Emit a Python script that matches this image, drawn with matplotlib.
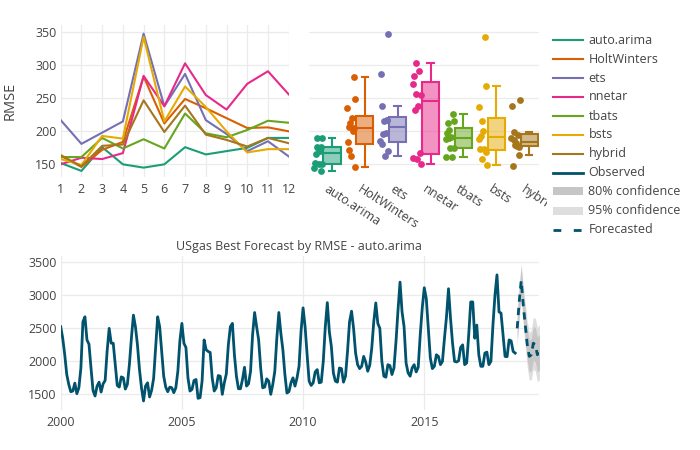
import numpy as np
import matplotlib
matplotlib.use('Agg')
import matplotlib.pyplot as plt
from matplotlib.lines import Line2D
from matplotlib.patches import Rectangle

plt.rcParams['font.family'] = ['Open Sans', 'DejaVu Sans']

# ---------------- data ----------------
horizons = list(range(1, 13))
models = ['auto.arima', 'HoltWinters', 'ets', 'nnetar', 'tbats', 'bsts', 'hybrid']
colors = ['#1b9e77', '#d95f02', '#7570b3', '#e7298a', '#66a61e', '#e6ab02', '#a6761d']

rmse_auto_arima = [152, 140, 176, 150, 145, 150, 176, 165, 170, 175, 190, 190]
rmse_holtwinters = [163, 146, 172, 184, 283, 212, 249, 235, 220, 205, 206, 200]
rmse_ets = [217, 181, 198, 215, 348, 238, 287, 217, 196, 170, 185, 162]
rmse_nnetar = [150, 160, 158, 167, 284, 238, 303, 255, 233, 272, 291, 256]
rmse_tbats = [161, 161, 190, 174, 188, 174, 227, 197, 191, 202, 216, 213]
rmse_bsts = [158, 149, 193, 189, 343, 215, 268, 237, 200, 168, 173, 173]
rmse_hybrid = [164, 147, 178, 180, 247, 199, 239, 195, 187, 177, 190, 182]
rmse = [rmse_auto_arima, rmse_holtwinters, rmse_ets, rmse_nnetar,
        rmse_tbats, rmse_bsts, rmse_hybrid]

# USgas monthly, Jan 2000 - Oct 2018
usgas = [
    2515, 2340, 2090, 1790, 1640, 1530, 1540, 1660, 1500, 1590, 1890, 2590,
    2665, 2315, 2250, 1890, 1550, 1465, 1615, 1675, 1525, 1650, 1700, 2150,
    2490, 2265, 2265, 1940, 1625, 1600, 1755, 1740, 1570, 1640, 1940, 2340,
    2690, 2515, 2240, 1865, 1590, 1390, 1615, 1665, 1450, 1550, 1730, 2190,
    2665, 2515, 2140, 1765, 1600, 1530, 1600, 1590, 1515, 1590, 1840, 2300,
    2565, 2265, 2200, 1740, 1540, 1565, 1700, 1715, 1430, 1440, 1690, 2315,
    2165, 2140, 2125, 1740, 1540, 1590, 1775, 1765, 1490, 1665, 1800, 2240,
    2515, 2565, 2090, 1765, 1575, 1575, 1715, 1900, 1615, 1650, 1840, 2390,
    2730, 2515, 2315, 1890, 1590, 1600, 1725, 1690, 1490, 1640, 1840, 2340,
    2730, 2415, 2165, 1790, 1510, 1530, 1665, 1740, 1615, 1740, 1915, 2450,
    2800, 2515, 2090, 1690, 1625, 1665, 1830, 1865, 1665, 1675, 1990, 2515,
    2880, 2440, 2215, 1815, 1690, 1675, 1890, 1880, 1675, 1765, 2140, 2590,
    2750, 2490, 2115, 1940, 1880, 1915, 2065, 1980, 1840, 1930, 2190, 2590,
    2875, 2565, 2490, 1990, 1765, 1750, 1940, 1925, 1790, 1890, 2290, 2765,
    3190, 2740, 2515, 1965, 1815, 1765, 1890, 1940, 1830, 1900, 2390, 2800,
    3105, 2940, 2490, 2040, 1880, 1915, 2090, 2065, 1940, 1990, 2340, 2665,
    3090, 2640, 2265, 1990, 1980, 2000, 2200, 2240, 1940, 1965, 2390, 2890,
    2890, 2340, 2540, 2090, 1915, 1915, 2115, 2130, 1940, 1990, 2540, 2990,
    3300, 2740, 2720, 2390, 2065, 2060, 2315, 2300, 2140, 2115,
]
start_year = 2000

# auto.arima forecast, Nov 2018 - Oct 2019
forecast = [2490, 2890, 3215, 2840, 2540, 2240, 2065, 2090, 2265, 2240, 2090, 2130]
upper80 = [2660, 3075, 3410, 3045, 2755, 2465, 2300, 2335, 2520, 2500, 2355, 2400]
lower80 = [2320, 2705, 3020, 2635, 2325, 2015, 1830, 1845, 2010, 1980, 1825, 1860]
upper95 = [2750, 3175, 3470, 3150, 2870, 2585, 2425, 2465, 2655, 2640, 2500, 2550]
lower95 = [2230, 2605, 2960, 2530, 2210, 1895, 1705, 1715, 1875, 1840, 1680, 1710]

title = 'USgas Best Forecast by RMSE - auto.arima'

# ---------------- style ----------------
W, H = 700, 450
TXT = '#444444'
GRID = '#ebebeb'
OBS = '#00526d'
C80 = '#c6c6c6'
C95 = '#dedede'

fig = plt.figure(figsize=(7, 4.5), dpi=100)

def fx(px):
    return px / W

def fy(py):
    return 1 - py / H

ax1 = fig.add_axes([fx(60.7), fy(177), fx(288.7 - 60.7), (177 - 25) / H])
ax2 = fig.add_axes([fx(309), fy(177), fx(539 - 309), (177 - 25) / H], sharey=ax1)
ax3 = fig.add_axes([fx(60.7), fy(410), fx(539.4 - 60.7), (410 - 256) / H])

for ax in (ax1, ax2, ax3):
    for s in ax.spines.values():
        s.set_visible(False)
    ax.tick_params(length=0, labelsize=9, labelcolor=TXT)
    ax.grid(True, color=GRID, lw=0.9)
    ax.set_axisbelow(True)

# --- top-left: RMSE by horizon
for vals, c in zip(rmse, colors):
    ax1.plot(horizons, vals, color=c, lw=1.5, solid_joinstyle='round')
ax1.set_xlim(1, 12)
ax1.set_xticks(horizons)
ax1.set_ylim(130.8, 361.1)
ax1.set_yticks([150, 200, 250, 300, 350])
ax1.tick_params(axis='x', pad=4)
ax1.tick_params(axis='y', pad=3)
ax1.set_ylabel('RMSE', fontsize=10.5, color=TXT)
ax1.yaxis.set_label_coords(-0.19, 0.5)

# --- top-right: box plots with points
pos = np.arange(len(models))
jit = [-0.10, 0.08, -0.03, 0.12, -0.12, 0.02, 0.10, -0.07, 0.05, -0.01, 0.13, -0.05]
for i, (vals, c) in enumerate(zip(rmse, colors)):
    bp = ax2.boxplot([vals], positions=[pos[i] + 0.2], widths=0.52, patch_artist=True,
                     showfliers=False, whis=1.5, capwidths=0.2, manage_ticks=False)
    for b in bp['boxes']:
        b.set_facecolor(matplotlib.colors.to_rgba(c, 0.5))
        b.set_edgecolor(c)
        b.set_linewidth(1.5)
    for k in ('whiskers', 'caps', 'medians'):
        for ln in bp[k]:
            ln.set_color(c)
            ln.set_linewidth(1.5)
    offs = np.roll(jit, i * 3)
    ax2.scatter(pos[i] - 0.22 + offs, vals, s=24, color=c, zorder=3, linewidths=0)
ax2.set_xlim(-0.5, 6.5)
ax2.set_xticks(pos)
ax2.set_xticklabels(models, rotation=-33, ha='left', va='center',
                    rotation_mode='anchor', fontsize=9, color=TXT)
ax2.tick_params(axis='x', pad=8)
ax2.tick_params(axis='y', labelleft=False)
ax2.xaxis.grid(False)

# --- bottom: observed + forecast
t_obs = start_year + np.arange(len(usgas)) / 12.0
t_fc = start_year + (len(usgas) + np.arange(len(forecast))) / 12.0
ax3.fill_between(t_fc, lower95, upper95, color=C95, lw=0, zorder=2)
ax3.fill_between(t_fc, lower80, upper80, color=C80, lw=0, zorder=2.1)
ax3.plot(t_obs, usgas, color=OBS, lw=2, zorder=3)
ax3.plot(t_fc, forecast, color=OBS, lw=2, dashes=(2.6, 2.2), zorder=3)
ax3.set_xlim(2000, t_fc[-1])
ax3.set_ylim(1253, 3586)
ax3.set_xticks([2000, 2005, 2010, 2015])
ax3.set_yticks([1500, 2000, 2500, 3000, 3500])
ax3.tick_params(axis='x', pad=4)
ax3.tick_params(axis='y', pad=3)
fig.text(fx(298.5), fy(246.5), title, ha='center', va='center', fontsize=9, color=TXT)

# --- legend (drawn at figure level)
fig.add_artist(Rectangle((fx(547), fy(245)), fx(153), 220 / H, transform=fig.transFigure,
                         facecolor='white', edgecolor='none', zorder=5))
rows = [40, 59, 78, 97, 116, 134.5, 153.5, 172.5, 191.5, 210.5, 229.5]
labels = models + ['Observed', '80% confidence', '95% confidence', 'Forecasted']
for r, lab, k in zip(rows, labels, range(len(labels))):
    yy = fy(r)
    if k < 7:
        fig.add_artist(Line2D([fx(553), fx(583)], [yy, yy], color=colors[k], lw=1.5,
                              transform=fig.transFigure, zorder=6))
    elif lab == 'Observed':
        fig.add_artist(Line2D([fx(553), fx(583)], [yy, yy], color=OBS, lw=2,
                              transform=fig.transFigure, zorder=6))
    elif lab.startswith('80'):
        fig.add_artist(Rectangle((fx(553), yy - 4 / H), fx(30), 8 / H, transform=fig.transFigure,
                                 facecolor=C80, edgecolor='none', zorder=6))
    elif lab.startswith('95'):
        fig.add_artist(Rectangle((fx(553), yy - 4 / H), fx(30), 8 / H, transform=fig.transFigure,
                                 facecolor=C95, edgecolor='none', zorder=6))
    else:
        fig.add_artist(Line2D([fx(553), fx(583)], [yy, yy], color=OBS, lw=2, dashes=(2.8, 4.5),
                              transform=fig.transFigure, zorder=6))
    fig.text(fx(588.5), yy, lab, ha='left', va='center', fontsize=9, color=TXT, zorder=6)

fig.savefig('out.png', dpi=100, facecolor='white')
